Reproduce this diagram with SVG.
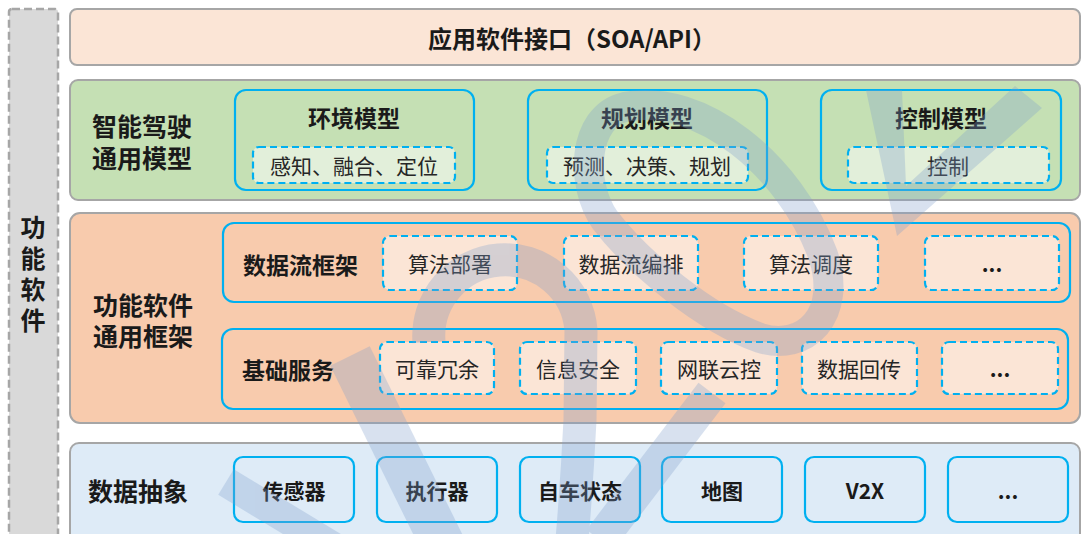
<svg xmlns="http://www.w3.org/2000/svg" width="1082" height="534" viewBox="0 0 1082 534">
<style>
.layer{stroke:#a6a6a6;stroke-width:2}
.grp{fill:none;stroke:#00b0f0;stroke-width:2.2}
.dash{stroke:#00b0f0;stroke-width:2.2;stroke-dasharray:7 4}
.item{fill:#deebf7;stroke:#00b0f0;stroke-width:2.2}
text{font-family:"Noto Sans CJK SC","Noto Sans",sans-serif;dominant-baseline:central;text-anchor:middle;fill:#1a1a1a}
.b25{font-size:25px;font-weight:bold}
.b23{font-size:23px;font-weight:bold}
.b22{font-size:22px;font-weight:bold}
.b21{font-size:21px;font-weight:bold}
.r21{font-size:21px;fill:#262626}
.st{text-anchor:start}
.vert{writing-mode:vertical-rl;letter-spacing:6px}
</style>
<rect width="1082" height="534" fill="#ffffff"/>
<g id="side">
<rect x="9" y="9" width="49" height="540" rx="3" fill="#d9d9d9" stroke="#a6a6a6" stroke-width="2.5" stroke-dasharray="8 4"/>
<text class="b25 vert" x="33" y="277">功能软件</text>
</g>
<g id="soa">
<rect class="layer" x="70" y="9" width="1010" height="56" rx="7" fill="#fbe5d6"/>
<text x="572" y="37" style="font-size:24px;font-weight:bold">应用软件接口（SOA/API）</text>
</g>
<g id="model-layer">
<rect class="layer" x="70" y="80" width="1010" height="120" rx="8" fill="#c5e0b4"/>
<text class="b25" x="142" y="125"><tspan x="142" y="125">智能驾驶</tspan><tspan x="142" y="157">通用模型</tspan></text>
</g>
<g id="env-model">
<rect class="grp" x="235" y="90" width="239" height="100" rx="11"/>
<text class="b23" x="354" y="117">环境模型</text>
<rect class="dash" x="253" y="147" width="202" height="36" rx="6" fill="#e2efda"/>
<text class="r21" x="354" y="165">感知、融合、定位</text>
</g>
<g id="plan-model">
<rect class="grp" x="528" y="90" width="239" height="100" rx="11"/>
<text class="b23" x="647" y="117">规划模型</text>
<rect class="dash" x="547" y="147" width="201" height="36" rx="6" fill="#e2efda"/>
<text class="r21" x="647" y="165">预测、决策、规划</text>
</g>
<g id="ctrl-model">
<rect class="grp" x="821" y="90" width="240" height="100" rx="11"/>
<text class="b23" x="941" y="117">控制模型</text>
<rect class="dash" x="848" y="147" width="201" height="36" rx="6" fill="#e2efda"/>
<text class="r21" x="948" y="165">控制</text>
</g>
<g id="framework-layer">
<rect class="layer" x="70" y="213" width="1010" height="210" rx="10" fill="#f8cbad"/>
<text class="b25" x="143" y="304"><tspan x="143" y="304">功能软件</tspan><tspan x="143" y="335">通用框架</tspan></text>
</g>
<g id="dataflow">
<rect class="grp" x="223" y="223" width="847" height="79" rx="11"/>
<text class="b23 st" x="243" y="264">数据流框架</text>
</g>
<g id="df-1"><rect class="dash" x="383" y="236" width="134" height="54" rx="7" fill="#fbe5d6"/><text class="r21" x="450" y="263">算法部署</text></g>
<g id="df-2"><rect class="dash" x="564" y="236" width="134" height="54" rx="7" fill="#fbe5d6"/><text class="r21" x="631" y="263">数据流编排</text></g>
<g id="df-3"><rect class="dash" x="744" y="236" width="134" height="54" rx="7" fill="#fbe5d6"/><text class="r21" x="811" y="263">算法调度</text></g>
<g id="df-4"><rect class="dash" x="925" y="236" width="134" height="54" rx="7" fill="#fbe5d6"/><text class="b21" x="992" y="263">...</text></g>
<g id="basic">
<rect class="grp" x="222" y="329" width="846" height="80" rx="11"/>
<text class="b23 st" x="242" y="369">基础服务</text>
</g>
<g id="bs-1"><rect class="dash" x="380" y="342" width="114" height="52" rx="7" fill="#fbe5d6"/><text class="r21" x="437" y="368">可靠冗余</text></g>
<g id="bs-2"><rect class="dash" x="520" y="342" width="116" height="52" rx="7" fill="#fbe5d6"/><text class="r21" x="578" y="368">信息安全</text></g>
<g id="bs-3"><rect class="dash" x="661" y="342" width="116" height="52" rx="7" fill="#fbe5d6"/><text class="r21" x="719" y="368">网联云控</text></g>
<g id="bs-4"><rect class="dash" x="802" y="342" width="115" height="52" rx="7" fill="#fbe5d6"/><text class="r21" x="859" y="368">数据回传</text></g>
<g id="bs-5"><rect class="dash" x="942" y="342" width="116" height="52" rx="7" fill="#fbe5d6"/><text class="b21" x="1000" y="368">...</text></g>
<g id="data-layer">
<rect class="layer" x="70" y="443" width="1010" height="110" rx="9" fill="#deebf7"/>
<text class="b25" x="138" y="490">数据抽象</text>
</g>
<g id="d-1"><rect class="item" x="234" y="457" width="120" height="65" rx="9"/><text class="b21" x="294" y="490">传感器</text></g>
<g id="d-2"><rect class="item" x="377" y="457" width="120" height="65" rx="9"/><text class="b21" x="437" y="490">执行器</text></g>
<g id="d-3"><rect class="item" x="520" y="457" width="120" height="65" rx="9"/><text class="b21" x="580" y="490">自车状态</text></g>
<g id="d-4"><rect class="item" x="662" y="457" width="120" height="65" rx="9"/><text class="b21" x="722" y="490">地图</text></g>
<g id="d-5"><rect class="item" x="805" y="457" width="120" height="65" rx="9"/><text class="b21" x="865" y="490">V2X</text></g>
<g id="d-6"><rect class="item" x="948" y="457" width="120" height="65" rx="9"/><text class="b21" x="1008" y="490">...</text></g>
<g id="connectors"></g>
<g id="watermark" opacity="0.3" fill="none" stroke="#7f9fcc" stroke-linecap="butt">
<path d="M226,482 L335,548" stroke-width="30"/>
<path d="M350,356 L447,553" stroke-width="44"/>
<path d="M429,342 A76,76 0 0 1 581,330 L580,420 Q577,480 572,540" stroke-width="33"/>
<path d="M625,107 C700,92 790,165 823,255 C843,315 805,352 760,338 C705,318 640,265 605,220 C580,185 582,117 625,107 Z" stroke-width="30"/>
<path d="M712,393 L600,540" stroke-width="34"/>
<path d="M866,90 L897,236 L1042,108 L1015,86 L906,186 L902,90 Z" fill="#7f9fcc" stroke="none"/>
</g>
</svg>
